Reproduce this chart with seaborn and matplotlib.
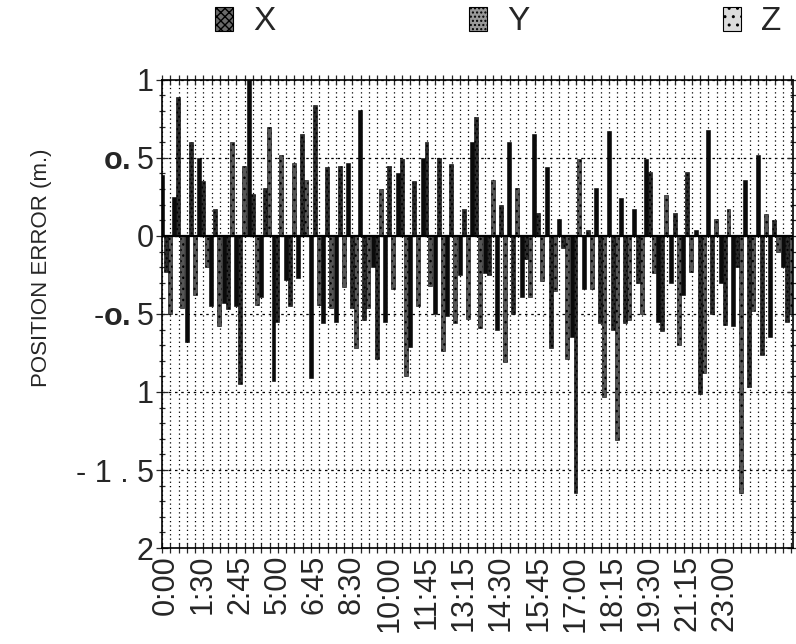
import numpy as np
import pandas as pd
import matplotlib
matplotlib.use('Agg')
import matplotlib.pyplot as plt
import seaborn as sns
from matplotlib.patches import Patch
from matplotlib.ticker import FixedLocator, MultipleLocator


# position error per sample (m.)
x_err = [0.39, 0.25, -0.68, 0.5, -0.45, -0.43, -0.45, 1.0, -0.39, -0.93,
         -0.28, -0.27, -0.91, -0.56, -0.55, 0.47, 0.81, -0.2, -0.55, 0.4,
         -0.71, 0.5, -0.5, -0.51, -0.25, 0.6, -0.24, -0.6, 0.6, -0.39,
         0.65, 0.44, 0.11, -0.65, -0.34, 0.31, 0.67, 0.24, 0.17, 0.49,
         -0.55, -0.3, -0.38, 0.04, 0.68, -0.3, -0.58, 0.36, 0.52, -0.65, -0.2]
y_err = [-0.23, 0.89, 0.6, 0.35, 0.17, -0.47, -0.95, 0.27, 0.31, -0.55,
         -0.45, 0.65, 0.84, 0.44, 0.45, -0.46, -0.54, -0.79, 0.45, 0.49,
         0.35, 0.6, 0.5, 0.46, 0.17, 0.76, -0.25, 0.2, -0.5, -0.15,
         0.15, -0.72, -0.08, -1.65, 0.04, -0.56, -0.6, -0.56, -0.3, 0.41,
         -0.61, 0.15, 0.41, -1.01, -0.5, -0.57, -0.2, -0.97, -0.76, 0.1, -0.55]
z_err = [-0.5, -0.46, -0.38, -0.2, -0.58, 0.6, 0.45, -0.44, 0.7, 0.52,
         0.47, 0.36, -0.44, -0.46, -0.33, -0.72, -0.46, 0.3, -0.34, -0.9,
         -0.45, -0.32, -0.74, -0.56, -0.53, -0.59, 0.36, -0.81, 0.31, -0.39,
         -0.29, -0.35, -0.79, 0.49, -0.34, -1.03, -1.31, -0.54, -0.5, -0.24,
         0.26, -0.7, -0.23, -0.88, 0.11, 0.17, -1.65, -0.48, 0.14, -0.1, -0.5]

# every third sample carries a time label
time_labels = ['0:00', '1:30', '2:45', '5:00', '6:45', '8:30', '10:00', '11:45',
               '13:15', '14:30', '15:45', '17:00', '18:15', '19:30', '21:15', '23:00']
y_ticks = [-2, -1.5, -1, -0.5, 0, 0.5, 1]
y_tick_labels = ['2', '- 1 . 5', '1', r'$\mathbf{\text{-}o.}$5', '0', r'$\mathbf{o.}$5', '1']
series = ['X', 'Y', 'Z']

sns.set_style('white')
plt.rcParams['font.family'] = ['Liberation Sans', 'DejaVu Sans']
plt.rcParams['mathtext.fontset'] = 'custom'
plt.rcParams['mathtext.rm'] = 'Liberation Sans'
plt.rcParams['mathtext.bf'] = 'Liberation Sans:bold'

n = len(x_err)
df = pd.concat([
    pd.DataFrame({'sample': np.arange(n), 'err': vals, 'axis': name})
    for name, vals in zip(series, [x_err, y_err, z_err])
])

fig = plt.figure(figsize=(7.96, 6.44), dpi=100)
ax = fig.add_axes([0.2035, 0.149, 0.7925, 0.727])

colors = {'X': '#0a0a0a', 'Y': '#2a2a2a', 'Z': '#555555'}
hatches = ['', '....', '...']
sns.barplot(data=df, x='sample', y='err', hue='axis', hue_order=series,
            palette=colors, width=0.96, dodge=True, errorbar=None,
            saturation=1, legend=False, ax=ax, linewidth=0.4, edgecolor='black')
for cont, h in zip(ax.containers, hatches):
    for bar in cont:
        bar.set_hatch(h)

ax.set_xlim(-0.3, n - 0.5)
ax.set_ylim(-2, 1)
ax.axhline(0, color='black', lw=1.6, zorder=5)

# x axis: labels every 3 samples, dotted grid at fixed spacing
ax.set_xticks(range(0, 3 * len(time_labels), 3))
ax.set_xticklabels(time_labels, rotation=90, fontsize=22)
ax.xaxis.set_minor_locator(FixedLocator(np.arange(-0.3, n - 0.4, 2 / 3)))
ax.tick_params(axis='x', which='major', length=0, pad=5)
ax.tick_params(axis='x', which='minor', direction='inout', length=7,
               width=0.9, top=True, bottom=True)
ax.grid(which='minor', axis='x', linestyle=(0, (1, 2.5)), color='black', lw=0.9)

ax.set_yticks(y_ticks)
ax.set_yticklabels(y_tick_labels, fontsize=22)
ax.yaxis.set_minor_locator(MultipleLocator(0.1))
ax.tick_params(axis='y', which='both', direction='inout', left=True, right=True,
               width=0.9)
ax.tick_params(axis='y', which='major', length=8, pad=2)
ax.tick_params(axis='y', which='minor', length=5)
ax.grid(which='major', axis='y', linestyle=(0, (2, 3)), color='black', lw=0.9)
ax.set_axisbelow(True)

for sp in ax.spines.values():
    sp.set_color('black')
    sp.set_linewidth(1.2)

ax.set_xlabel('')
ax.set_ylabel('POSITION ERROR (m.)', fontsize=16)
ax.yaxis.set_label_coords(-0.175, 0.598)

# legend swatches are lighter textures than the bars
handles = [Patch(facecolor=fc, edgecolor='black', hatch=h, lw=0.8)
           for fc, h in zip(['#6a6a6a', '#9a9a9a', '#dcdcdc'], ['xxxx', '....', '..'])]
fig.legend(handles, series, loc='center', bbox_to_anchor=(0.626, 0.966), ncol=3,
           frameon=False, fontsize=24, handlelength=0.55, handleheight=0.75,
           handletextpad=0.6, columnspacing=5.8)

fig.savefig('out.png', dpi=100)
